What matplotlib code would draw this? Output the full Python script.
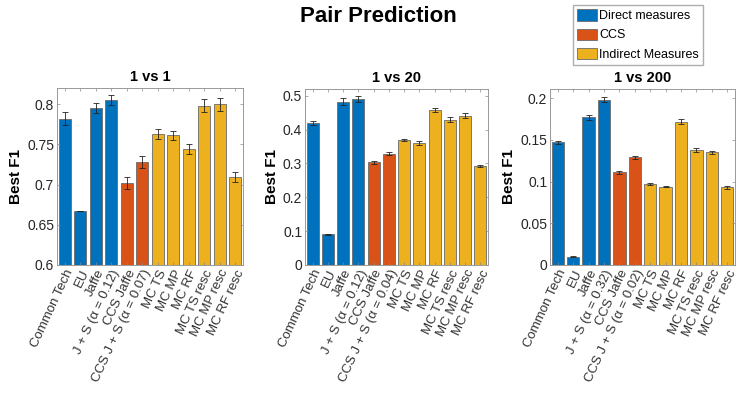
import matplotlib
matplotlib.use("Agg")
import matplotlib.pyplot as plt
from matplotlib.patches import Patch

plt.rcParams["font.family"] = ["Liberation Sans", "DejaVu Sans"]

base = ["Common Tech", "EU", "Jaffe", "J + S (\u03b1 = {})", "CCS Jaffe",
        "CCS J + S (\u03b1 = {})", "MC TS", "MC MP", "MC RF", "MC TS resc",
        "MC MP resc", "MC RF resc"]
groups = [0, 0, 0, 0, 1, 1, 2, 2, 2, 2, 2, 2]
colors = ["#0072BD", "#D95319", "#EDB120"]
legend_names = ["Direct measures", "CCS", "Indirect Measures"]

titles = ["1 vs 1", "1 vs 20", "1 vs 200"]
alphas = [("0.12", "0.07"), ("0.12", "0.04"), ("0.32", "0.02")]

f1_1 = [0.782, 0.667, 0.795, 0.805, 0.702, 0.728, 0.763, 0.761, 0.744, 0.798, 0.800, 0.709]
err_1 = [0.008, 0.0005, 0.006, 0.006, 0.007, 0.008, 0.006, 0.006, 0.006, 0.008, 0.008, 0.006]
f1_20 = [0.420, 0.091, 0.482, 0.491, 0.303, 0.329, 0.369, 0.361, 0.458, 0.429, 0.441, 0.293]
err_20 = [0.005, 0.001, 0.010, 0.009, 0.004, 0.004, 0.004, 0.005, 0.006, 0.007, 0.007, 0.003]
f1_200 = [0.147, 0.010, 0.177, 0.198, 0.111, 0.129, 0.097, 0.094, 0.172, 0.138, 0.135, 0.093]
err_200 = [0.002, 0.0005, 0.003, 0.003, 0.002, 0.002, 0.001, 0.001, 0.003, 0.002, 0.002, 0.002]

ylims = [(0.6, 0.82), (0, 0.52), (0, 0.211)]
yticks = [[0.6, 0.65, 0.7, 0.75, 0.8], [0, 0.1, 0.2, 0.3, 0.4, 0.5],
          [0, 0.05, 0.1, 0.15, 0.2]]
ytl = [["0.6", "0.65", "0.7", "0.75", "0.8"], ["0", "0.1", "0.2", "0.3", "0.4", "0.5"],
       ["0", "0.05", "0.1", "0.15", "0.2"]]

fig = plt.figure(figsize=(7.48, 3.93), dpi=100)
W, H = 748, 393
boxes = [(57, 88, 243, 265), (305, 89, 488, 265), (550, 89, 735, 265)]
data = [(f1_1, err_1), (f1_20, err_20), (f1_200, err_200)]

for k in range(3):
    l, t, r, b = boxes[k]
    ax = fig.add_axes([l / W, 1 - b / H, (r - l) / W, (b - t) / H])
    vals, errs = data[k]
    x = list(range(len(vals)))
    ax.bar(x, [v - ylims[k][0] for v in vals], bottom=ylims[k][0], width=0.8,
           color=[colors[g] for g in groups], edgecolor="#6b6b6b", linewidth=0.6)
    ax.errorbar(x, vals, yerr=errs, fmt="none", ecolor="#222222", elinewidth=0.6,
                capsize=2.5, capthick=0.6)
    labels = [s.format(alphas[k][0]) if i == 3 else
              (s.format(alphas[k][1]) if i == 5 else s) for i, s in enumerate(base)]
    ax.set_xticks(x)
    ax.set_xticklabels(labels, rotation=65, ha="right", rotation_mode="anchor",
                       fontsize=9.5, color="#333333")
    ax.set_xlim(-0.5, len(vals) - 0.5)
    ax.set_ylim(*ylims[k])
    ax.set_yticks(yticks[k])
    ax.set_yticklabels(ytl[k], fontsize=10, color="#262626")
    ax.tick_params(direction="in", top=True, right=True, length=2.5, width=0.5,
                   color="#888888", pad=2)
    for sp in ax.spines.values():
        sp.set_color("#999999")
        sp.set_linewidth(0.7)
    ax.set_title(titles[k], fontsize=10.5, fontweight="bold", pad=5)
    ax.set_ylabel("Best F1", fontsize=11, fontweight="bold", labelpad=3)

fig.text(378 / W, 1 - 16 / H, "Pair Prediction", ha="center", va="center",
         fontsize=16, fontweight="bold")

handles = [Patch(facecolor=c, edgecolor="#6b6b6b", linewidth=0.6) for c in colors]
fig.legend(handles, legend_names, loc="upper left",
           bbox_to_anchor=(573 / W, 1 - 5 / H), fontsize=9, frameon=True,
           fancybox=False, edgecolor="#999999", handlelength=1.6, handleheight=1.0,
           handletextpad=0.15, borderpad=0.35, labelspacing=0.5, borderaxespad=0)

fig.savefig("out.png", dpi=100, facecolor="white")
